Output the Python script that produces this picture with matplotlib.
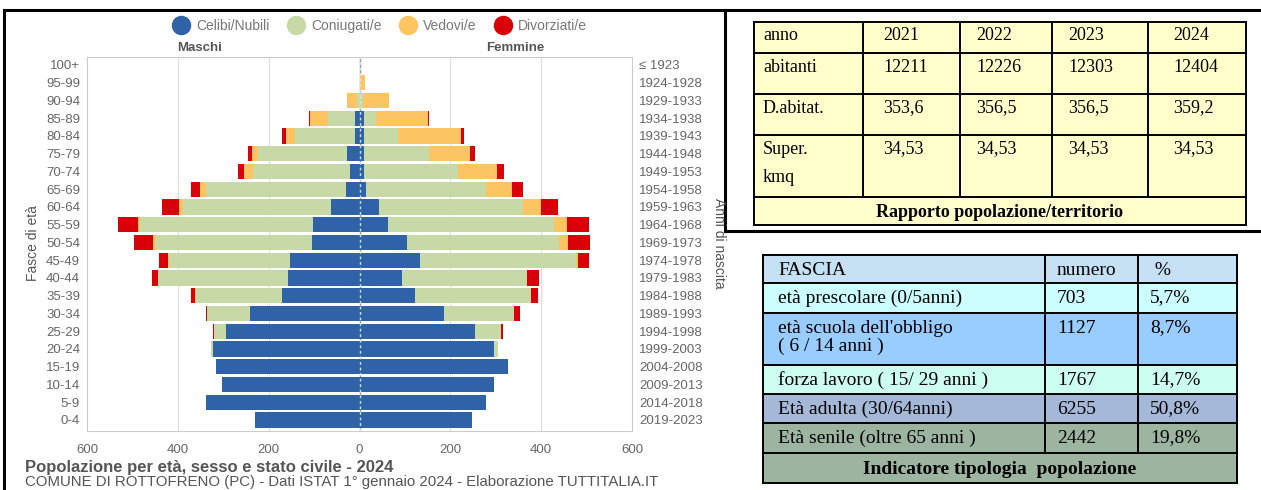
import matplotlib
matplotlib.use("Agg")
import matplotlib.pyplot as plt
from matplotlib.lines import Line2D
from matplotlib.patches import Rectangle
import numpy as np

# piramide: righe dall'alto (100+) al basso (0-4)
fasce = ["100+", "95-99", "90-94", "85-89", "80-84", "75-79", "70-74", "65-69",
         "60-64", "55-59", "50-54", "45-49", "40-44", "35-39", "30-34", "25-29",
         "20-24", "15-19", "10-14", "5-9", "0-4"]
anni = ["≤ 1923", "1924-1928", "1929-1933", "1934-1938", "1939-1943", "1944-1948",
        "1949-1953", "1954-1958", "1959-1963", "1964-1968", "1969-1973", "1974-1978",
        "1979-1983", "1984-1988", "1989-1993", "1994-1998", "1999-2003", "2004-2008",
        "2009-2013", "2014-2018", "2019-2023"]

celibi_m = [0, 0, 0, 9, 9, 27, 20, 29, 62, 103, 104, 154, 158, 170, 241, 293, 323, 315, 302, 337, 231]
coniugati_m = [0, 0, 5, 61, 132, 196, 214, 308, 326, 381, 345, 265, 286, 191, 95, 28, 3, 0, 0, 0, 0]
vedovi_m = [0, 0, 22, 40, 20, 13, 20, 15, 9, 4, 6, 2, 0, 2, 0, 0, 0, 0, 0, 0, 0]
divorziati_m = [0, 0, 0, 2, 9, 9, 13, 20, 37, 43, 42, 21, 12, 7, 3, 1, 1, 0, 0, 0, 0]

celibi_f = [0, 0, 2, 9, 9, 11, 11, 15, 44, 62, 105, 133, 94, 123, 185, 254, 297, 327, 297, 279, 247]
coniugati_f = [0, 2, 5, 28, 75, 143, 205, 264, 315, 366, 335, 344, 274, 254, 156, 57, 7, 0, 0, 0, 0]
vedovi_f = [1, 11, 57, 113, 139, 90, 86, 56, 40, 29, 18, 3, 0, 0, 0, 0, 0, 0, 0, 0, 0]
divorziati_f = [0, 0, 0, 2, 6, 10, 17, 24, 38, 49, 49, 26, 28, 15, 12, 4, 0, 0, 0, 0, 0]

stati = ["Celibi/Nubili", "Coniugati/e", "Vedovi/e", "Divorziati/e"]
colori = ["#2f62a6", "#c6d9a6", "#fdc562", "#d90009"]

# tabella territorio
tab1_righe = [["anno", "2021", "2022", "2023", "2024"],
              ["abitanti", "12211", "12226", "12303", "12404"],
              ["D.abitat.", "353,6", "356,5", "356,5", "359,2"],
              ["Super.\nkmq", "34,53", "34,53", "34,53", "34,53"]]
tab1_titolo = "Rapporto popolazione/territorio"

# tabella fasce
tab2_righe = [["FASCIA", "numero", " %"],
              ["età prescolare (0/5anni)", "703", "5,7%"],
              ["età scuola dell'obbligo\n( 6 / 14 anni )", "1127", "8,7%"],
              ["forza lavoro ( 15/ 29 anni )", "1767", "14,7%"],
              ["Età adulta (30/64anni)", "6255", "50,8%"],
              ["Età senile (oltre 65 anni )", "2442", "19,8%"]]
tab2_colori = ["#c6e0f4", "#ccffff", "#99ccff", "#ccfff0", "#a6b8d8", "#9cb4a0"]
tab2_titolo = "Indicatore tipologia  popolazione"

W, H = 1261, 490
SANS = ["Liberation Sans", "DejaVu Sans"]
SERIF = ["Liberation Serif", "DejaVu Serif"]
GRIGIO = "#666666"

fig = plt.figure(figsize=(W / 100, H / 100), dpi=100)
fig.patch.set_facecolor("white")

# ---- piramide
ax = fig.add_axes([87 / W, 1 - 431 / H, 545 / W, 374 / H])
y = np.arange(len(fasce))[::-1]
cum_m = np.zeros(len(fasce))
cum_f = np.zeros(len(fasce))
maschi = [celibi_m, coniugati_m, vedovi_m, divorziati_m]
femmine = [celibi_f, coniugati_f, vedovi_f, divorziati_f]
for vm, vf, c in zip(maschi, femmine, colori):
    vm = np.array(vm, dtype=float)
    vf = np.array(vf, dtype=float)
    ax.barh(y, -vm, left=-cum_m, height=0.86, color=c, linewidth=0, zorder=2)
    ax.barh(y, vf, left=cum_f, height=0.86, color=c, linewidth=0, zorder=2)
    cum_m += vm
    cum_f += vf

ax.set_xlim(-600, 600)
ax.set_ylim(-0.62, 20.45)
ax.set_xticks([-600, -400, -200, 0, 200, 400, 600])
ax.set_xticklabels(["600", "400", "200", "0", "200", "400", "600"])
ax.set_yticks(y)
ax.set_yticklabels(fasce)
for t in ax.get_xticklabels() + ax.get_yticklabels():
    t.set_family(SANS)
    t.set_color(GRIGIO)
    t.set_fontsize(9.5)
ax.tick_params(length=0, pad=5)
ax.tick_params(axis="x", pad=9)
for x in [-400, -200, 200, 400]:
    ax.axvline(x, color="#dddddd", lw=0.8, zorder=1)
ax.axvline(0, color="#999999", lw=1, zorder=1)
ax.axvline(0, color="#cfe3f7", lw=1, ls=(0, (2, 2)), zorder=3)
for s in ax.spines.values():
    s.set_color("#cccccc")
    s.set_linewidth(0.8)

sec = ax.secondary_yaxis("right")
sec.set_yticks(y)
sec.set_yticklabels(anni)
sec.tick_params(length=0, pad=5)
sec.spines["right"].set_visible(False)
for t in sec.get_yticklabels():
    t.set_family(SANS)
    t.set_color(GRIGIO)
    t.set_fontsize(9.5)

maniglie = [Line2D([], [], marker="o", ls="", markersize=13, color=c) for c in colori]
fig.legend(maniglie, stati, loc="center", bbox_to_anchor=(377 / W, 1 - 26 / H), ncol=4,
           frameon=False, handletextpad=0.1, columnspacing=0.9,
           prop={"family": SANS, "size": 10}, labelcolor="#777777")

# ---- livello in pixel per testi, cornici e tabelle
ov = fig.add_axes([0, 0, 1, 1], zorder=5)
ov.set_xlim(0, W)
ov.set_ylim(H, 0)
ov.axis("off")
ov.patch.set_visible(False)

ov.text(200, 48, "Maschi", ha="center", va="center", family=SANS, fontsize=9.5,
        color="#555555", fontweight="bold")
ov.text(515, 48, "Femmine", ha="center", va="center", family=SANS, fontsize=9.5,
        color="#555555", fontweight="bold")
ov.text(33, 243, "Fasce di età", rotation=90, ha="center", va="center", family=SANS,
        fontsize=10, color="#555555")
ov.text(719, 243, "Anni di nascita", rotation=-90, ha="center", va="center", family=SANS,
        fontsize=10, color="#555555")
ov.text(25, 467, "Popolazione per età, sesso e stato civile - 2024", ha="left", va="center",
        family=SANS, fontsize=12, fontweight="bold", color="#555555")
ov.text(25, 482, "COMUNE DI ROTTOFRENO (PC) - Dati ISTAT 1° gennaio 2024 - Elaborazione TUTTITALIA.IT",
        ha="left", va="center", family=SANS, fontsize=10.8, color="#555555")

# cornici nere
ov.plot([4, 4], [10, H], color="black", lw=2.2)
ov.plot([4, W], [10, 10], color="black", lw=2.2)
ov.plot([725, 725], [10, 231], color="black", lw=2.2)
ov.plot([725, W], [231, 231], color="black", lw=2.2)


def tabella(cols, rows, righe, colori_righe, titolo, titolo_col, pads, fs, dy):
    for i, riga in enumerate(righe):
        top, bot = rows[i], rows[i + 1]
        ov.add_patch(Rectangle((cols[0], top), cols[-1] - cols[0], bot - top,
                               facecolor=colori_righe[i], edgecolor="none"))
        for j, testo in enumerate(riga):
            for k, linea in enumerate(testo.split("\n")):
                ov.text(cols[j] + pads[j], top + dy + k * pads[-1], linea, ha="left",
                        va="center", family=SERIF, fontsize=fs, color="black")
    top, bot = rows[-2], rows[-1]
    ov.add_patch(Rectangle((cols[0], top), cols[-1] - cols[0], bot - top,
                           facecolor=titolo_col, edgecolor="none"))
    ov.text((cols[0] + cols[-1]) / 2, (top + bot) / 2 + 1, titolo, ha="center", va="center",
            family=SERIF, fontsize=fs, fontweight="bold", color="black")
    for r in rows:
        ov.plot([cols[0], cols[-1]], [r, r], color="black", lw=1.4)
    for c in cols:
        ov.plot([c, c], [rows[0], rows[-2] if c not in (cols[0], cols[-1]) else rows[-1]],
                color="black", lw=1.4)


tabella([754, 863, 960, 1052, 1148, 1246], [22, 53, 94, 135, 197, 225],
        tab1_righe, ["#ffffcc"] * 4, tab1_titolo, "#ffffcc",
        [9, 20, 16, 16, 25, 28], 13, 14)
tabella([763, 1045, 1138, 1237], [255, 283, 313, 365, 394, 423, 453, 483],
        tab2_righe, tab2_colori, tab2_titolo, "#9cb4a0",
        [15, 12, 12, 18], 14, 15)

fig.savefig("out.png", dpi=100)
